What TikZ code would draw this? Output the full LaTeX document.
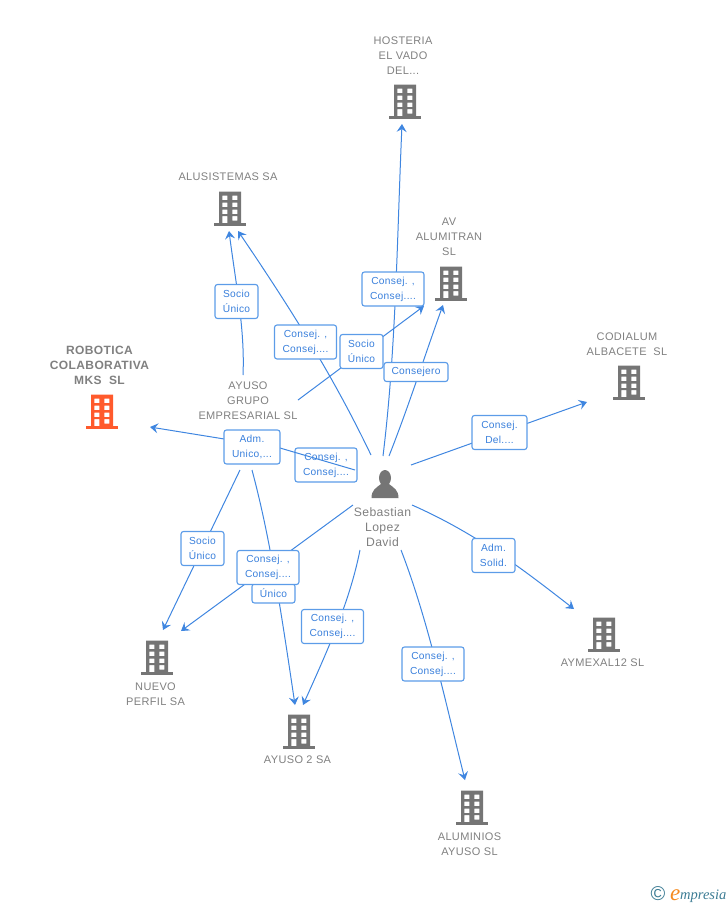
\documentclass[tikz,border=0pt]{standalone}
\usepackage{fontspec}
\setmainfont{Liberation Sans}
\newfontfamily\captfont[LetterSpace=3.2]{Liberation Sans}
\newfontfamily\tagfont[LetterSpace=3]{Liberation Sans}
\usetikzlibrary{arrows.meta}
\definecolor{linkblue}{HTML}{3F86E0}
\definecolor{boxblue}{HTML}{5C9CE8}
\definecolor{txtblue}{HTML}{3A80DC}
\definecolor{greytxt}{HTML}{808080}
\definecolor{iconrey}{HTML}{757575}
\definecolor{orangeic}{HTML}{FF5A2C}
\definecolor{logoteal}{HTML}{3C7C94}
\definecolor{logoorange}{HTML}{F58A1F}
\tikzset{
  x=1pt,y=-1pt,
  link/.style={draw=linkblue,line width=1pt},
  linkarrow/.style={link,-{Stealth[length=8pt,width=10pt,inset=3pt]}},
  tagbox/.style={draw=boxblue,line width=1.1pt,fill=white,rounded corners=2.5pt,inner sep=0pt,
    text=txtblue,align=center,font=\tagfont\fontsize{10.2}{15}\selectfont},
  tagwide/.style={tagbox,minimum width=62pt,minimum height=34pt},
  tagnarrow/.style={tagbox,minimum width=43pt,minimum height=34pt},
  caption/.style={text=greytxt,align=center,inner sep=0pt,font=\captfont\fontsize{11}{15}\selectfont},
  bld/.pic={
    \fill[pic actions,even odd rule]
      (-11,-16.5) rectangle (11,15)
      (-7.6,-12.5) rectangle (-2.6,-8) (2.4,-12.5) rectangle (7.4,-8)
      (-7.6,-5.5) rectangle (-2.6,-1) (2.4,-5.5) rectangle (7.4,-1)
      (-7.6,1.5) rectangle (-2.6,6) (2.4,1.5) rectangle (7.4,6)
      (-7.6,8) rectangle (-2.6,15) (2.4,8) rectangle (7.4,12.5);
    \fill[pic actions] (-16,15) rectangle (16,17.5);
  }
}
\begin{document}
\begin{tikzpicture}
\useasboundingbox (0,0) rectangle (728,905);
% free ends of connectors
\coordinate (pHosA) at (383,456); \coordinate (hosT) at (402,124);
\coordinate (pAvA) at (389,456); \coordinate (avT) at (443,305);
\coordinate (pAluA) at (371,455); \coordinate (aluT2) at (238,231);
\coordinate (gAluA) at (243,375); \coordinate (aluT1) at (229,231);
\coordinate (gAvA) at (298,400); \coordinate (avT2) at (424,306);
\coordinate (pCodA) at (411,465); \coordinate (codT) at (587,402);
\coordinate (pRobA) at (355,470); \coordinate (robT) at (150,427);
\coordinate (robM) at (280,448);
\coordinate (gNueA) at (240,470); \coordinate (nueT1) at (163,630);
\coordinate (gAyuA) at (252,470); \coordinate (ayuT1) at (295,705);
\coordinate (pNueA) at (353,505); \coordinate (nueT2) at (181,631);
\coordinate (pAyuA) at (360,550); \coordinate (ayuT2) at (303,705);
\coordinate (pAlmA) at (401,550); \coordinate (almT) at (465,780);
\coordinate (pAymA) at (412,505); \coordinate (aymT) at (574,609);
% connectors
\draw[linkarrow] (pHosA) .. controls (396,350) and (397,240) .. (hosT);
\draw[linkarrow] (pAvA) .. controls (408,408) and (425,355) .. (avT);
\draw[linkarrow] (pAluA) .. controls (335,380) and (295,315) .. (aluT2);
\draw[linkarrow] (gAluA) .. controls (245,330) and (236,285) .. (aluT1);
\draw[linkarrow] (gAvA) -- (avT2);
\draw[linkarrow] (pCodA) -- (codT);
\draw[linkarrow] (gNueA) -- (nueT1);
\draw[linkarrow] (gAyuA) .. controls (268,530) and (278,590) .. (ayuT1);
\draw[linkarrow] (pNueA) -- (nueT2);
\draw[linkarrow] (pAyuA) .. controls (350,600) and (330,645) .. (ayuT2);
\draw[linkarrow] (pAlmA) .. controls (428,620) and (445,700) .. (almT);
\draw[linkarrow] (pAymA) .. controls (480,535) and (530,575) .. (aymT);
% tags
\node[tagnarrow] (t1) at (236.5,301.5) {Socio\\Único};
\node[tagwide] (t2) at (305.5,342) {Consej. ,\\Consej....};
\node[tagnarrow] (t3) at (361.5,351.5) {Socio\\Único};
\node[tagwide] (t4) at (393,289) {Consej. ,\\Consej....};
\node[tagbox,minimum width=64pt,minimum height=19pt] (t5) at (416,372) {Consejero};
\node[tagwide,minimum width=55pt] (t6) at (499.5,432.5) {Consej.\\Del....};
\node[tagwide] (t7) at (326,465) {Consej. ,\\Consej....};
\node[tagnarrow] (t8) at (202.5,548.5) {Socio\\Único};
\node[tagnarrow,minimum height=19pt] (t9) at (273.5,593.5) {Único};
\node[tagwide] (t10) at (268,567.5) {Consej. ,\\Consej....};
\node[tagwide] (t11) at (332.5,626.5) {Consej. ,\\Consej....};
\node[tagwide] (t12) at (433,664) {Consej. ,\\Consej....};
\node[tagnarrow] (t13) at (493.5,555.5) {Adm.\\Solid.};
% connector over the tag below it
\draw[linkarrow] (pRobA) -- (robM) -- (robT);
\node[tagwide,minimum width=56pt] (t14) at (252,447) {Adm.\\Unico,...};
% buildings
\pic[fill=iconrey] at (405,101) {bld};
\pic[fill=iconrey] at (230,208) {bld};
\pic[fill=iconrey] at (451,283) {bld};
\pic[fill=iconrey] at (629,382) {bld};
\pic[fill=orangeic] at (102,411) {bld};
\pic[fill=iconrey] at (604,634) {bld};
\pic[fill=iconrey] at (157,657) {bld};
\pic[fill=iconrey] at (299,731) {bld};
\pic[fill=iconrey] at (472,807) {bld};
% person
\fill[iconrey] (385,478) ellipse (6 and 8);
\fill[iconrey] (371.5,498) .. controls (371.5,490) and (376,488) .. (381,484) -- (389,484)
  .. controls (394,488) and (398.5,490) .. (398.5,498) -- cycle;
% captions
\node[caption] (n1) at (403,56) {HOSTERIA\\EL VADO\\DEL...};
\node[caption] (n2) at (228,177) {ALUSISTEMAS SA};
\node[caption] (n3) at (449,237) {AV\\ALUMITRAN\\SL};
\node[caption] (n4) at (627,344) {CODIALUM\\ALBACETE\ \ SL};
\node[caption,font=\captfont\fontsize{12}{15}\selectfont\bfseries] (n5) at (99.5,365) {ROBOTICA\\COLABORATIVA\\MKS\ \ SL};
\node[caption] (n6) at (248,401) {AYUSO\\GRUPO\\EMPRESARIAL SL};
\node[caption,font=\captfont\fontsize{12.2}{15}\selectfont] (n7) at (382.5,527) {Sebastian\\Lopez\\David};
\node[caption] (n8) at (602.5,663) {AYMEXAL12 SL};
\node[caption] (n9) at (155.5,694) {NUEVO\\PERFIL SA};
\node[caption] (n10) at (297.5,760) {AYUSO 2 SA};
\node[caption] (n11) at (469.5,844) {ALUMINIOS\\AYUSO SL};
% logo
\node[inner sep=0pt,text=logoteal] (c) at (658,894) {\fontsize{20}{20}\selectfont ©};
\node[inner sep=0pt,anchor=base west,text=logoorange,font=\fontsize{23}{23}\selectfont\itshape] (e) at (670,900) {\fontspec{Liberation Serif}e};
\node[inner sep=0pt,anchor=base west,text=logoteal,font=\fontsize{14.5}{14}\selectfont\itshape] (m) at (680,899) {\fontspec{Liberation Serif}mpresia};
\end{tikzpicture}
\end{document}
